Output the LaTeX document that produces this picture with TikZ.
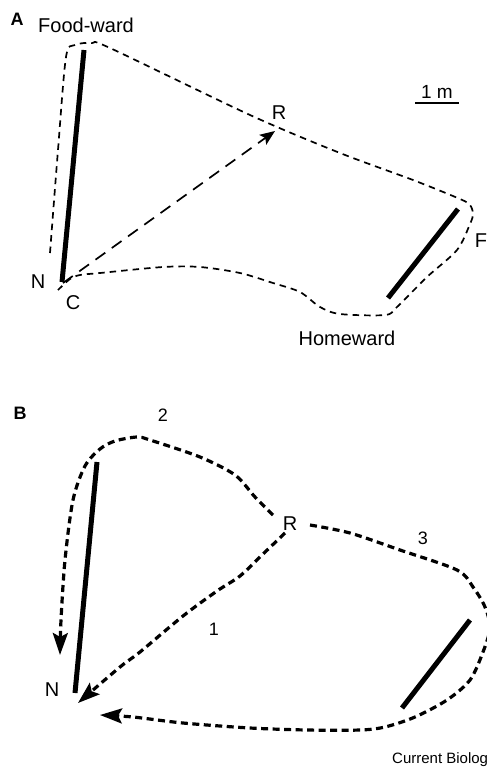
\documentclass[tikz,border=0pt]{standalone}
\usepackage{fontspec}
\setmainfont{Liberation Sans}
\usetikzlibrary{arrows.meta}
\tikzset{
  landmark/.style={line width=5pt},
  trackA/.style={dash pattern=on 6.5pt off 5pt, line width=1.7pt},
  vector/.style={dash pattern=on 12pt off 8pt, line width=1.7pt},
  trackB/.style={dash pattern=on 7pt off 4.5pt, line width=3.2pt},
  lbl/.style={font=\fontsize{20}{24}\selectfont, inner sep=0pt},
  panel/.style={font=\fontsize{18}{22}\selectfont\bfseries, inner sep=0pt},
  tipB/.style={-{Stealth[length=22pt, width=15pt, inset=4pt]}},
}
\begin{document}
\begin{tikzpicture}[x=1pt, y=-1pt]
  \clip (0,0) rectangle (487,769);
  % ---------------- Panel A ----------------
  \node[panel] (labA) at (17,19) {A};
  \node[lbl] (foodward) at (86,25) {Food-ward};
  \node[lbl] (homeward) at (347,338) {Homeward};
  \node[lbl] (nA) at (38,282) {N};
  \node[lbl] (cA) at (73,303) {C};
  \node[lbl] (rA) at (279,113) {R};
  \node[lbl] (fA) at (481,241) {F};
  % barre d'echelle
  \node[lbl, font=\fontsize{19}{22}\selectfont] (scale) at (437,92) {1 m};
  \draw[line width=1.8pt] (415,103) -- (459,103);
  % reperes
  \draw[landmark] (84,50) -- (62,282);
  \draw[landmark] (458,209) -- (388,298);
  % trajet
  \draw[trackA] plot[smooth, tension=0.5] coordinates {
    (50,253) (58,150) (66,57) (75,45) (92,43) (110,48) (250,115)
    (340,153) (413,180) (460,199) (470,205) (473,214) (470,224)
    (457,250) (427,277) (397,307) (385,315) (340,314) (320,307)
    (300,292) (273,283) (240,273) (200,267) (163,267) (100,273)
    (80,275) (70,279) (58,290)};
  % vecteur C -> R
  \coordinate (startA) at (63,283);
  \coordinate (endA) at (275,131);
  \draw[vector, -{Stealth[length=15pt, width=12pt, inset=3pt]}] (startA) -- (endA);
  % ---------------- Panel B ----------------
  \node[panel] (labB) at (20,413) {B};
  \node[lbl, font=\fontsize{18}{22}\selectfont] (two) at (163,415) {2};
  \node[lbl, font=\fontsize{18}{22}\selectfont] (one) at (214,629) {1};
  \node[lbl, font=\fontsize{18}{22}\selectfont] (three) at (423,538) {3};
  \node[lbl] (nB) at (52,690) {N};
  \node[lbl] (rB) at (290,524) {R};
  % reperes
  \draw[landmark] (97,462) -- (75,693);
  \draw[landmark] (470,620) -- (402,708);
  % trajet 2
  \draw[trackB, tipB] plot[smooth, tension=0.5] coordinates {
    (273,515) (255,497) (235,475) (200,457) (150,440) (137,437)
    (115,441) (100,449) (85,466) (73,500) (65,560) (61,620) (60,655)};
  % trajet 1
  \draw[trackB, tipB] plot[smooth, tension=0.5] coordinates {
    (285,533) (262,555) (240,576) (217,591) (183,616) (140,652)
    (120,667) (78,703)};
  % trajet 3
  \draw[trackB, tipB] plot[smooth, tension=0.5] coordinates {
    (310,525) (350,533) (400,550) (457,570) (473,587) (485,607)
    (490,628) (483,652) (470,680) (447,700) (415,717) (385,727)
    (360,730) (307,730) (250,728) (183,723) (133,717) (100,715)};
  % source
  \node[font=\fontsize{15}{17}\selectfont, inner sep=0pt, anchor=base west]
    (source) at (392,763) {Current Biology};
\end{tikzpicture}
\end{document}
